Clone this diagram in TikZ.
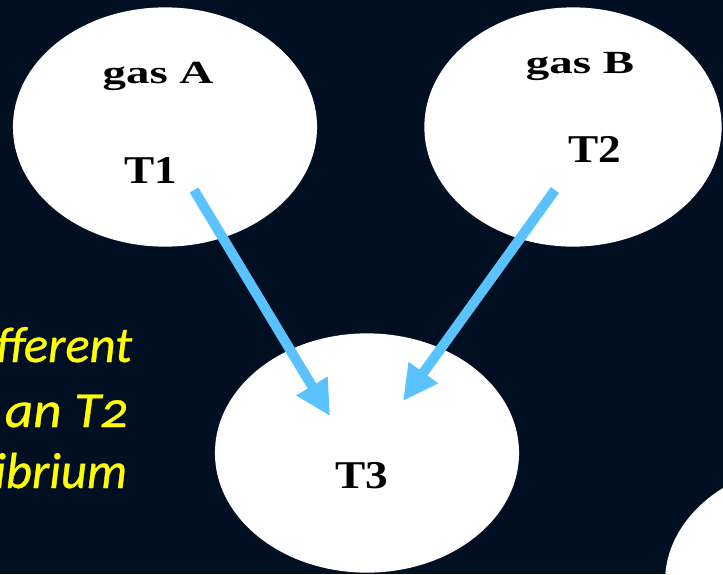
\documentclass[tikz,border=0pt]{standalone}
\usepackage{fontspec}
\usepackage{graphicx,xcolor}
\usetikzlibrary{arrows.meta,shapes.geometric}
\setmainfont{Liberation Serif}
\newfontfamily\calfont[Numbers={OldStyle,Proportional},ItalicFeatures={FakeBold=0.7}]{Carlito}
\definecolor{slidebg}{RGB}{0,16,34}
\definecolor{flowblue}{RGB}{90,195,255}
\definecolor{noteyellow}{RGB}{255,255,0}
\newcommand{\widen}[2]{\scalebox{#1}[1]{#2}}

\begin{document}
\begin{tikzpicture}[x=0.025cm,y=-0.025cm,
  gasbubble/.style={ellipse,fill=white,inner sep=0pt,minimum width=7.6cm,minimum height=5.98cm},
  gaslabel/.style={anchor=base,font=\fontsize{23}{27}\selectfont\bfseries},
  templabel/.style={anchor=base,font=\fontsize{28}{32}\selectfont\bfseries},
  note/.style={anchor=base east,text=noteyellow,font=\fontsize{36}{42}\selectfont\calfont\itshape},
  flow/.style={flowblue,line width=0.25cm,-{Triangle[length=0.875cm,width=0.85cm]}}]
\clip (0,0) rectangle (723,574);
\fill[slidebg] (0,0) rectangle (723,574);
\node[gasbubble] (gasA) at (165,127) {};
\node[gasbubble,minimum width=7.43cm] (gasB) at (573,127) {};
\node[gasbubble] (mix) at (367,453) {};
\node[gasbubble] (other) at (817,582) {};
\node[gaslabel] (labA) at (158,83) {\widen{1.45}{gas A}};
\node[templabel] (tA) at (151,183) {\widen{1.15}{T1}};
\node[gaslabel] (labB) at (580,73) {\widen{1.45}{gas B}};
\node[templabel] (tB) at (595,162) {\widen{1.15}{T2}};
\node[templabel] (tC) at (362,488) {\widen{1.15}{T3}};
\node[note] (noteA) at (137,362) {fferent};
\node[note] (noteB) at (133,427) {\widen{1.09}{1 an T2}};
\node[note] (noteC) at (132,488) {ibrium};
\coordinate (fromA) at (194,190);
\coordinate (toA) at (330,416);
\coordinate (fromB) at (555,190);
\coordinate (toB) at (403,401);
\draw[flow] (fromA) -- (toA);
\draw[flow] (fromB) -- (toB);
\end{tikzpicture}
\end{document}
